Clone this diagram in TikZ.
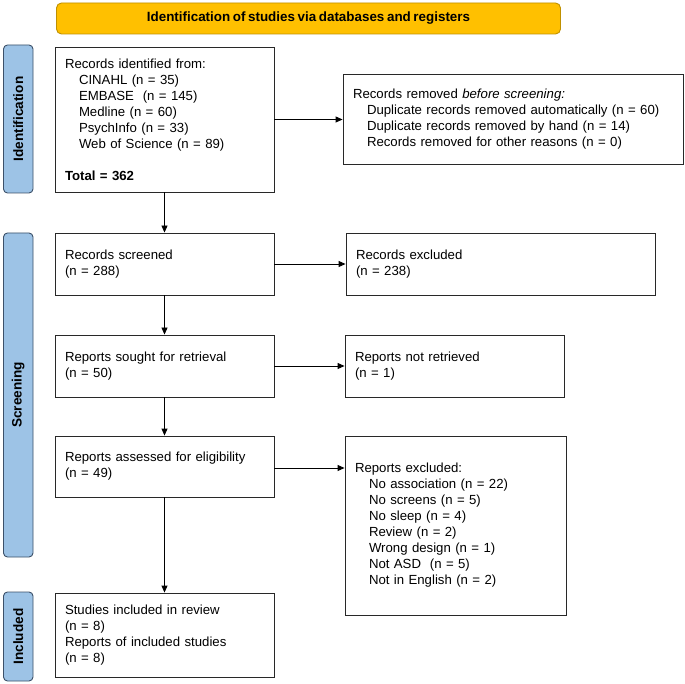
\documentclass[tikz,border=0pt]{standalone}
\usepackage{fontspec}
\setmainfont{Liberation Sans}[WordSpace=0.7]
\usetikzlibrary{arrows.meta}
\definecolor{bannerfill}{RGB}{255,192,0}
\definecolor{bannerdraw}{RGB}{191,144,0}
\definecolor{barfill}{RGB}{157,195,230}
\definecolor{bardraw}{RGB}{60,80,105}
\definecolor{boxdraw}{RGB}{40,40,40}
\tikzset{
  txt/.style={font=\fontsize{13.2}{16}\selectfont},
  banner/.style={draw=bannerdraw, fill=bannerfill, line width=0.9pt, rounded corners=5pt, font=\fontsize{13.4}{16}\selectfont\bfseries, inner sep=0pt},
  sidebar/.style={draw=bardraw, fill=barfill, line width=0.9pt, rounded corners=4pt, inner sep=0pt, minimum width=29.5pt},
  sidelabel/.style={rotate=90, font=\fontsize{13.6}{16}\selectfont\bfseries, inner sep=0pt},
  flowbox/.style={draw=boxdraw, line width=0.9pt, txt, align=left, inner xsep=10pt, inner ysep=0pt},
  flowarrow/.style={draw=black, line width=0.9pt, -{Triangle[length=7pt,width=6pt]}}
}
\newcommand{\ind}{\hspace*{14pt}}
\begin{document}
\begin{tikzpicture}[x=1pt,y=-1pt]
\useasboundingbox (0,0) rectangle (685,684);
\fill[white] (0,0) rectangle (685,684);

% banner
\node[banner, minimum width=504pt, minimum height=31pt] (banner) at (308.5,18.5) {Identification of studies via databases and registers};

% side bars
\node[sidebar, minimum height=148pt] (identbar) at (18.25,119) {};
\node[sidelabel] (identlab) at (identbar.center) {Identification};
\node[sidebar, minimum height=324pt] (screenbar) at (18.25,395) {};
\node[sidelabel] (screenlab) at (screenbar.center) {Screening};
\node[sidebar, minimum height=89pt] (inclbar) at (18.25,636.5) {};
\node[sidelabel] (incllab) at (inclbar.center) {Included};

% left column
\node[flowbox, text width=199pt, minimum height=145pt] (ident) at (164.5,119.5) {Records identified from:\\
\ind CINAHL (n = 35)\\
\ind EMBASE\ \ (n = 145)\\
\ind Medline (n = 60)\\
\ind PsychInfo (n = 33)\\
\ind Web of Science (n = 89)\\[16pt]
\textbf{Total = 362}};

\node[flowbox, text width=199pt, minimum height=62pt] (screened) at (164.5,264) {Records screened\\(n = 288)};
\node[flowbox, text width=199pt, minimum height=62pt] (sought) at (164.5,366) {Reports sought for retrieval\\(n = 50)};
\node[flowbox, text width=199pt, minimum height=61pt] (assessed) at (164.5,466.5) {Reports assessed for eligibility\\(n = 49)};
\node[flowbox, text width=199pt, minimum height=84pt] (included) at (164.5,635) {Studies included in review\\(n = 8)\\Reports of included studies\\(n = 8)};

% right column
\node[flowbox, text width=320pt, minimum height=90pt] (removed) at (513,119) {Records removed \textit{before screening:}\\
\ind Duplicate records removed automatically (n = 60)\\
\ind Duplicate records removed by hand (n = 14)\\
\ind Records removed for other reasons (n = 0)};
\node[flowbox, text width=289pt, minimum height=62pt] (excluded) at (500.5,264) {Records excluded\\(n = 238)};
\node[flowbox, text width=199pt, minimum height=62pt] (notret) at (454.5,366) {Reports not retrieved\\(n = 1)};
\node[flowbox, text width=201pt, minimum height=179pt] (repexcl) at (455.5,525.5) {Reports excluded:\\
\ind No association (n = 22)\\
\ind No screens (n = 5)\\
\ind No sleep (n = 4)\\
\ind Review (n = 2)\\
\ind Wrong design (n = 1)\\
\ind Not ASD\ \ (n = 5)\\
\ind Not in English (n = 2)};

% arrows
\draw[flowarrow] (ident.south) -- (ident.south |- screened.north);
\draw[flowarrow] (screened.south) -- (screened.south |- sought.north);
\draw[flowarrow] (sought.south) -- (sought.south |- assessed.north);
\draw[flowarrow] (assessed.south) -- (assessed.south |- included.north);
\draw[flowarrow] (ident.east) -- (ident.east -| removed.west);
\draw[flowarrow] (screened.east) -- (screened.east -| excluded.west);
\draw[flowarrow] (sought.east) -- (sought.east -| notret.west);
\draw[flowarrow] ([yshift=-1.5pt]assessed.east) -- ([yshift=-1.5pt]assessed.east -| repexcl.west);
\end{tikzpicture}
\end{document}
